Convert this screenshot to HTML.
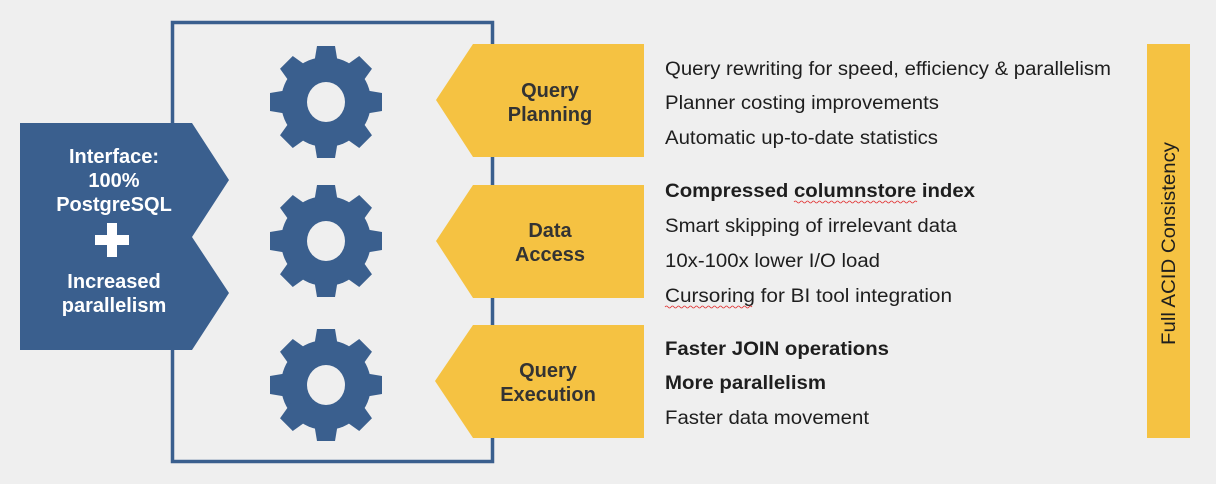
<!DOCTYPE html>
<html><head><meta charset="utf-8"><style>
html,body{margin:0;padding:0;background:#efefef;}
svg{display:block;}
text{font-family:"Liberation Sans",Arial,sans-serif;}
</style></head><body>
<svg width="1216" height="484" viewBox="0 0 1216 484" xmlns="http://www.w3.org/2000/svg">
<rect width="1216" height="484" fill="#efefef"/>
<defs>
<g id="gear">
  <circle r="45" fill="#3a5f8e"/>
  <g fill="#3a5f8e">
    <path d="M-9,-56 L9,-56 L12,-38 L-12,-38Z"/>
    <path d="M-9,-56 L9,-56 L12,-38 L-12,-38Z" transform="rotate(45)"/>
    <path d="M-9,-56 L9,-56 L12,-38 L-12,-38Z" transform="rotate(90)"/>
    <path d="M-9,-56 L9,-56 L12,-38 L-12,-38Z" transform="rotate(135)"/>
    <path d="M-9,-56 L9,-56 L12,-38 L-12,-38Z" transform="rotate(180)"/>
    <path d="M-9,-56 L9,-56 L12,-38 L-12,-38Z" transform="rotate(225)"/>
    <path d="M-9,-56 L9,-56 L12,-38 L-12,-38Z" transform="rotate(270)"/>
    <path d="M-9,-56 L9,-56 L12,-38 L-12,-38Z" transform="rotate(315)"/>
  </g>
  <ellipse rx="19" ry="20" fill="#efefef"/>
</g>
</defs>
<rect x="172.5" y="22.5" width="320" height="439" fill="none" stroke="#3a5f8e" stroke-width="3.5"/>
<polygon points="20,123 192,123 229,180 192,237 229,293 192,350 20,350" fill="#3a5f8e"/>
<g fill="#fff" font-weight="bold" font-size="20" text-anchor="middle">
<text x="114" y="163">Interface:</text>
<text x="114" y="187">100%</text>
<text x="114" y="211">PostgreSQL</text>
<text x="114" y="288">Increased</text>
<text x="114" y="312">parallelism</text>
</g>
<rect x="95" y="235" width="34" height="10" fill="#fff"/>
<rect x="107" y="223" width="10" height="34" fill="#fff"/>
<use href="#gear" x="326" y="102"/>
<use href="#gear" x="326" y="241"/>
<use href="#gear" x="326" y="385"/>
<g fill="#f5c242">
<polygon points="473,44 644,44 644,157 473,157 436,100"/>
<polygon points="473,185 644,185 644,298 473,298 436,241"/>
<polygon points="473,325 644,325 644,438 473,438 435,381"/>
</g>
<g fill="#333" font-weight="bold" font-size="20" text-anchor="middle">
<text x="550" y="97">Query</text>
<text x="550" y="121">Planning</text>
<text x="550" y="237">Data</text>
<text x="550" y="261">Access</text>
<text x="548" y="377">Query</text>
<text x="548" y="401">Execution</text>
</g>
<g fill="#1e1e1e" font-size="19">
<text x="665" y="75" textLength="446" lengthAdjust="spacingAndGlyphs">Query rewriting for speed, efficiency &amp; parallelism</text>
<text x="665" y="109" textLength="274" lengthAdjust="spacingAndGlyphs">Planner costing improvements</text>
<text x="665" y="144" textLength="273" lengthAdjust="spacingAndGlyphs">Automatic up-to-date statistics</text>
<text x="665" y="197" font-weight="bold" textLength="310" lengthAdjust="spacingAndGlyphs">Compressed columnstore index</text>
<text x="665" y="232" textLength="292" lengthAdjust="spacingAndGlyphs">Smart skipping of irrelevant data</text>
<text x="665" y="267" textLength="215" lengthAdjust="spacingAndGlyphs">10x-100x lower I/O load</text>
<text x="665" y="302" textLength="287" lengthAdjust="spacingAndGlyphs">Cursoring  for BI tool integration</text>
<text x="665" y="355" font-weight="bold" textLength="224" lengthAdjust="spacingAndGlyphs">Faster JOIN operations</text>
<text x="665" y="389" font-weight="bold" textLength="161" lengthAdjust="spacingAndGlyphs">More parallelism</text>
<text x="665" y="424" textLength="204" lengthAdjust="spacingAndGlyphs">Faster data movement</text>
</g>
<path d="M794,202 q1.5,-2 3,0 t3,0 t3,0 t3,0 t3,0 t3,0 t3,0 t3,0 t3,0 t3,0 t3,0 t3,0 t3,0 t3,0 t3,0 t3,0 t3,0 t3,0 t3,0 t3,0 t3,0 t3,0 t3,0 t3,0 t3,0 t3,0 t3,0 t3,0 t3,0 t3,0 t3,0 t3,0 t3,0 t3,0 t3,0 t3,0 t3,0 t3,0 t3,0 t3,0 t3,0" fill="none" stroke="#e03030" stroke-width="0.8"/>
<path d="M665,307 q1.5,-2 3,0 t3,0 t3,0 t3,0 t3,0 t3,0 t3,0 t3,0 t3,0 t3,0 t3,0 t3,0 t3,0 t3,0 t3,0 t3,0 t3,0 t3,0 t3,0 t3,0 t3,0 t3,0 t3,0 t3,0 t3,0 t3,0 t3,0 t3,0 t3,0" fill="none" stroke="#e03030" stroke-width="0.8"/>
<rect x="1147" y="44" width="43" height="394" fill="#f5c242"/>
<text transform="translate(1175,345) rotate(-90)" fill="#1e1e1e" font-size="19" textLength="203" lengthAdjust="spacingAndGlyphs">Full ACID Consistency</text>
</svg>
</body></html>
